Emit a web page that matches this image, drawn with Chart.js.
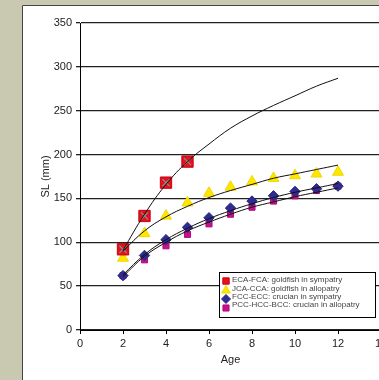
<!DOCTYPE html>
<html>
<head>
<meta charset="utf-8">
<script src="https://cdn.jsdelivr.net/npm/chart.js@4.4.1/dist/chart.umd.min.js"></script>
<style>
  html, body { margin: 0; padding: 0; width: 379px; height: 380px; overflow: hidden; background: #c9c9b1; }
  #wrap { position: absolute; left: 0; top: 0; width: 400px; height: 380px; }
</style>
</head>
<body>
<div id="wrap"><canvas id="myChart" width="400" height="380"></canvas></div>
<script>
// ages and measured SL (mm)
const ages = [2, 3, 4, 5, 6, 7, 8, 9, 10, 11, 12];
const redAges = [2, 3, 4, 5];
const ecaFca = [92, 130, 168, 192];
const jcaCca = [82, 110, 130, 145, 156, 163, 169, 173, 176, 178, 180];
const fccEcc = [62, 85, 103, 117, 128, 139, 147, 153, 158, 161, 164];
const pccHccBcc = [62, 80, 96, 109, 121, 132, 140, 147, 153, 159, 164];

// trend lines
const ecaFcaTrend = [91, 132, 166, 192, 212, 230, 244, 256, 267, 278, 287];
const jcaCcaTrend = [90, 113, 129, 141, 151, 159, 166, 173, 178, 183, 188];
const fccEccTrend = [63, 86, 103, 116, 127, 136, 144, 151, 157, 162, 167];
const pccTrend = [61, 84, 100, 113, 123, 132, 140, 146, 152, 157, 162];

const xTicks = [0, 2, 4, 6, 8, 10, 12, 14];
const yTicks = [0, 50, 100, 150, 200, 250, 300, 350];

const labels = [
  "ECA-FCA: goldfish in sympatry",
  "JCA-CCA: goldfish in allopatry",
  "FCC-ECC: crucian in sympatry",
  "PCC-HCC-BCC: crucian in allopatry"
];

function pts(xs, ys) {
  return xs.map((x, i) => ({ x: x, y: ys[i] }));
}

function trend(ys) {
  return {
    type: 'line',
    data: pts(ages, ys),
    borderColor: '#111',
    borderWidth: 1,
    pointRadius: 0,
    tension: 0.4,
    showLine: true,
    fill: false,
    order: 0,
    inLegend: false
  };
}

// grey page with the white chart panel
const panelBg = {
  id: 'panelBg',
  beforeDraw(chart) {
    const ctx = chart.ctx;
    ctx.save();
    ctx.fillStyle = '#c9c9b1';
    ctx.fillRect(0, 0, chart.width, chart.height);
    ctx.fillStyle = '#fff';
    ctx.fillRect(22, 5, chart.width, chart.height);
    ctx.strokeStyle = '#444';
    ctx.lineWidth = 1;
    ctx.beginPath();
    ctx.moveTo(22.5, chart.height);
    ctx.lineTo(22.5, 5.5);
    ctx.lineTo(chart.width, 5.5);
    ctx.stroke();
    ctx.restore();
  }
};

// boxed legend inside the plot, lower right
const boxLegend = {
  id: 'boxLegend',
  afterDraw(chart) {
    const ctx = chart.ctx;
    ctx.save();
    ctx.fillStyle = '#fff';
    ctx.fillRect(219, 272, 156, 45);
    ctx.strokeStyle = '#000';
    ctx.lineWidth = 1;
    ctx.strokeRect(219.5, 272.5, 156, 45);
    const rows = [280, 289, 297, 305];
    const marks = [281, 290.5, 299, 308];
    chart.data.datasets.filter(d => d.inLegend).forEach((d, i) => {
      ctx.fillStyle = d.backgroundColor;
      ctx.strokeStyle = d.borderColor;
      ctx.lineWidth = 1;
      Chart.helpers.drawPoint(ctx, {
        pointStyle: d.pointStyle,
        radius: d.legendRadius,
        rotation: 0,
        borderWidth: 1
      }, 226, marks[i]);
      ctx.font = '8px Arial, "Liberation Sans", sans-serif';
      ctx.fillStyle = '#444';
      ctx.textBaseline = 'middle';
      ctx.textAlign = 'left';
      ctx.fillText(d.label, 232, rows[i]);
    });
    ctx.restore();
  }
};

const datasets = [
  trend(ecaFcaTrend),
  trend(jcaCcaTrend),
  trend(fccEccTrend),
  trend(pccTrend),
  {
    // grey cross on top of the red squares
    label: 'x',
    data: pts(redAges, ecaFca),
    pointStyle: 'crossRot',
    pointRadius: 5,
    borderColor: '#6f9a9a',
    backgroundColor: '#6f9a9a',
    borderWidth: 1.2,
    showLine: false,
    order: 1,
    inLegend: false
  },
  {
    label: labels[0],
    data: pts(redAges, ecaFca),
    pointStyle: 'rect',
    pointRadius: 8,
    legendRadius: 4.5,
    backgroundColor: '#e8101a',
    borderColor: '#c80010',
    borderWidth: 1,
    showLine: false,
    order: 2,
    inLegend: true
  },
  {
    label: labels[1],
    data: pts(ages, jcaCca),
    pointStyle: 'triangle',
    pointRadius: 6.3,
    legendRadius: 5,
    backgroundColor: '#ffe600',
    borderColor: '#f0d800',
    borderWidth: 1,
    showLine: false,
    order: 3,
    inLegend: true
  },
  {
    label: labels[2],
    data: pts(ages, fccEcc),
    pointStyle: 'rectRot',
    pointRadius: 5.2,
    legendRadius: 4.5,
    backgroundColor: '#2f2b90',
    borderColor: '#2a2680',
    borderWidth: 1,
    showLine: false,
    order: 4,
    inLegend: true
  },
  {
    label: labels[3],
    data: pts(ages, pccHccBcc),
    pointStyle: 'rect',
    pointRadius: 4.3,
    legendRadius: 4.3,
    backgroundColor: '#c8108c',
    borderColor: '#b00c7c',
    borderWidth: 1,
    showLine: false,
    order: 5,
    inLegend: true
  }
];

const tickFont = { family: 'Arial, "Liberation Sans", sans-serif', size: 11 };

const ctx = document.getElementById("myChart").getContext("2d");
const myChart = new Chart(ctx, {
  type: 'scatter',
  data: { datasets: datasets },
  options: {
    responsive: false,
    animation: false,
    devicePixelRatio: 1,
    layout: { padding: { left: 39, top: 23, right: 19, bottom: 13 } },
    plugins: {
      legend: { display: false },
      tooltip: { enabled: false }
    },
    scales: {
      x: {
        type: 'linear',
        min: 0,
        max: 14,
        afterBuildTicks: (scale) => { scale.ticks = xTicks.map(v => ({ value: v })); },
        afterFit: (scale) => { scale.height = 37; },
        ticks: { font: tickFont, color: '#222', padding: 3, maxRotation: 0 },
        grid: { drawOnChartArea: false, drawTicks: true, tickLength: 4, color: '#000' },
        border: { color: '#000', width: 1 },
        title: { display: true, text: 'Age', font: tickFont, color: '#222', padding: { top: 0, bottom: 0 } }
      },
      y: {
        min: 0,
        max: 350,
        afterBuildTicks: (scale) => { scale.ticks = yTicks.map(v => ({ value: v })); },
        afterFit: (scale) => { scale.width = 41; },
        ticks: { font: tickFont, color: '#222', padding: 4 },
        grid: { color: '#222', lineWidth: 1.3, tickLength: 4 },
        border: { color: '#000', width: 1 },
        title: { display: true, text: 'SL (mm)', font: tickFont, color: '#222', padding: { top: 0, bottom: 0 } }
      }
    }
  },
  plugins: [panelBg, boxLegend]
});
</script>
</body>
</html>
